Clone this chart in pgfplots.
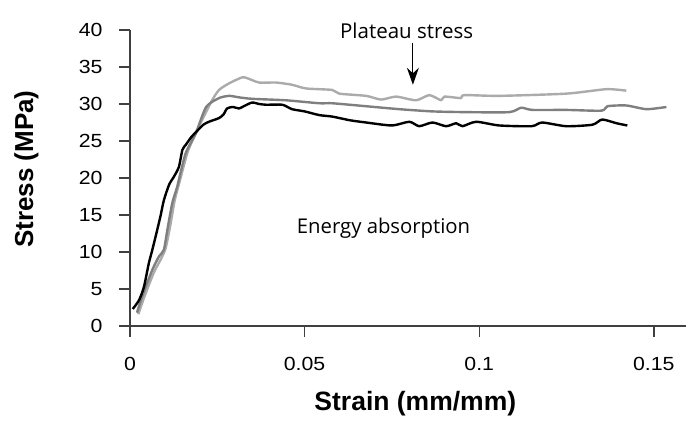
\documentclass[border=0pt]{standalone}
\usepackage{fontspec}
\usepackage{pgfplots}
\pgfplotsset{compat=1.18}
\usetikzlibrary{arrows.meta}
\setmainfont{Liberation Sans}
\newfontfamily\tickfont[FakeStretch=1.12]{Liberation Sans}
\newfontfamily\notefont{Open Sans}
\definecolor{axisgray}{HTML}{404040}
\definecolor{midgray}{HTML}{7F7F7F}
\definecolor{lightgray}{HTML}{ABABAB}

\begin{document}
\begin{tikzpicture}
\begin{axis}[
  at={(0,0)}, anchor=south west,
  scale only axis,
  width=556bp, height=296bp,
  xmin=0, xmax=0.1592, ymin=0, ymax=40,
  axis x line*=bottom, axis y line*=left,
  axis line style={axisgray, line width=1.3bp},
  tick align=outside, major tick length=11bp,
  tick style={axisgray, line width=1.3bp},
  xtick={0,0.05,0.1,0.15},
  xticklabels={0,0.05,0.1,0.15},
  ytick={0,5,...,40},
  /pgf/number format/assume math mode=true,
  ticklabel style={font=\fontsize{19bp}{22bp}\tickfont, text=black},
  yticklabel style={anchor=east, xshift=-13bp},
  xticklabel style={anchor=north, yshift=-17bp},
  clip=false,
  every axis x label/.style={at={(axis cs:0.0817,0)}, yshift=-78bp, anchor=center,
    font=\fontsize{26.5bp}{31bp}\selectfont\bfseries},
  every axis y label/.style={at={(rel axis cs:0,0.530)}, xshift=-103.5bp, rotate=90, anchor=center,
    font=\fontsize{26bp}{31bp}\selectfont\bfseries},
  xlabel={Strain (mm/mm)},
  ylabel={Stress (MPa)},
]
% specimen 3 (light grey)
\addplot[lightgray, line width=2.4bp, smooth, tension=0.4, line join=round] coordinates {
(0.0024,1.6) (0.0040,3.8) (0.0068,7.2) (0.0088,9.0) (0.0102,10.5) (0.0115,13.5)
(0.0128,17.0) (0.0142,19.5) (0.0165,23.5) (0.0188,26.0) (0.0206,27.8) (0.0235,30.5)
(0.0255,31.9) (0.0284,32.8) (0.0321,33.6) (0.0335,33.5) (0.0370,32.9) (0.0418,32.9)
(0.0464,32.6) (0.0504,32.1) (0.0579,31.9) (0.0599,31.4) (0.0676,31.1) (0.0719,30.6)
(0.0762,31.0) (0.0819,30.5) (0.0857,31.2) (0.0891,30.5) (0.0900,31.0) (0.0948,30.8)
(0.0957,31.2) (0.1057,31.1) (0.1249,31.4) (0.1364,32.0) (0.1421,31.8)
};
% specimen 2 (mid grey)
\addplot[midgray, line width=2.4bp, smooth, tension=0.4, line join=round] coordinates {
(0.0020,1.8) (0.0035,4.0) (0.0064,7.6) (0.0083,9.4) (0.0097,10.3) (0.0107,13.0)
(0.0121,16.6) (0.0135,18.8) (0.0159,23.3) (0.0188,26.0) (0.0218,29.6) (0.0255,30.8)
(0.0284,31.1) (0.0312,30.9) (0.0350,30.7) (0.0447,30.5) (0.0542,30.1) (0.0579,30.1)
(0.0676,29.7) (0.0771,29.3) (0.0866,29.0) (0.0963,28.9) (0.1086,28.9) (0.1120,29.5)
(0.1152,29.2) (0.1249,29.2) (0.1350,29.1) (0.1367,29.7) (0.1421,29.8) (0.1479,29.3)
(0.1536,29.6)
};
% specimen 1 (black)
\addplot[black, line width=2.4bp, smooth, tension=0.4, line join=round] coordinates {
(0.0008,2.3) (0.0026,3.5) (0.0040,5.3) (0.0054,8.5) (0.0064,10.3) (0.0078,13.0)
(0.0088,15.0) (0.0097,17.0) (0.0112,19.1) (0.0126,20.2) (0.0140,21.5) (0.0150,23.8)
(0.0160,24.5) (0.0175,25.5) (0.0189,26.2) (0.0210,27.2) (0.0226,27.6) (0.0255,28.1)
(0.0268,28.6) (0.0278,29.4) (0.0295,29.6) (0.0312,29.4) (0.0330,29.8) (0.0350,30.2)
(0.0370,30.0) (0.0390,29.9) (0.0436,29.9) (0.0464,29.3) (0.0500,29.0) (0.0542,28.5)
(0.0579,28.3) (0.0630,27.8) (0.0676,27.5) (0.0750,27.1) (0.0800,27.6) (0.0828,27.0)
(0.0866,27.5) (0.0905,27.0) (0.0934,27.4) (0.0952,27.0) (0.0991,27.6) (0.1057,27.1)
(0.1150,27.0) (0.1180,27.5) (0.1249,27.0) (0.1324,27.2) (0.1352,27.9) (0.1393,27.4)
(0.1424,27.1)
};
\node[font=\fontsize{20.5bp}{24bp}\notefont, anchor=base] at (axis cs:0.0792,38.85) {Plateau stress};
\draw[-{Stealth[length=17bp,width=12bp]}, line width=1.2bp, black]
  (axis cs:0.0810,38.3) -- (axis cs:0.0810,32.6);
\node[font=\fontsize{20.3bp}{24bp}\notefont, anchor=base] at (axis cs:0.0726,12.5) {Energy absorption};
\end{axis}
\pgfresetboundingbox
\path[use as bounding box] (-130bp,-98bp) rectangle (556bp,326bp);
\end{tikzpicture}
\end{document}
